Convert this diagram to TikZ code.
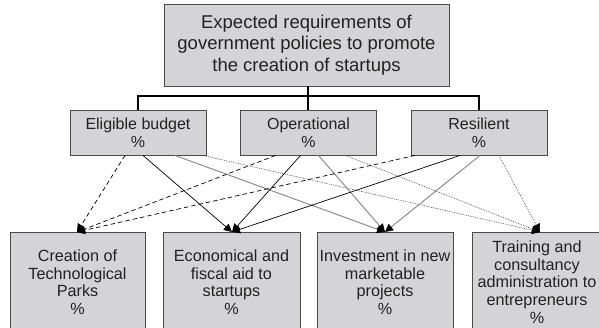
\documentclass[tikz,border=0pt]{standalone}
\usepackage{fontspec}
\setmainfont{Liberation Sans}
\usetikzlibrary{arrows.meta}
\definecolor{boxfill}{HTML}{D4D4D6}
\definecolor{boxline}{HTML}{4A4A4A}
\definecolor{txt}{HTML}{222222}
\definecolor{grayline}{HTML}{8C8C8C}
\begin{document}
\begin{tikzpicture}[x=1pt,y=-1pt,
  box/.style={draw=boxline,fill=boxfill,line width=0.9pt,inner sep=0pt,align=center,text=txt},
  topbox/.style={box,minimum width=285pt,minimum height=82pt,font=\fontsize{18.5}{21.5}\selectfont},
  midbox/.style={box,minimum width=136pt,minimum height=45pt,font=\fontsize{16}{18}\selectfont},
  botbox/.style={box,minimum height=100pt,font=\fontsize{16.2}{17.6}\selectfont},
  tree/.style={line width=1.2pt,black},
  tip/.style={-{Triangle[length=8pt,width=8pt,color=black,fill=black]}},
  cdash/.style={tip,line width=0.7pt,black,dash pattern=on 4.5pt off 3pt},
  csolid/.style={tip,line width=0.7pt,black},
  cgray/.style={tip,line width=1pt,grayline},
  cdot/.style={tip,line width=0.6pt,black!75,dash pattern=on 0.8pt off 1pt}
]
\useasboundingbox (0,0) rectangle (599,328);
\clip (0,0) rectangle (599,328);
\node[topbox] (top) at (306.5,45) {Expected requirements of\\government policies to promote\\the creation of startups};
\node[midbox] (eb) at (138,132.5) {Eligible budget\\\%};
\node[midbox] (op) at (308.5,132.5) {Operational\\\%};
\node[midbox] (re) at (479,132.5) {Resilient\\\%};
\node[botbox,minimum width=135pt] (cr) at (77.5,282) {Creation of\\Technological\\Parks\\\%};
\node[botbox,minimum width=137pt] (ec) at (231.5,282) {Economical and\\fiscal aid to\\startups\\\%};
\node[botbox,minimum width=136pt] (in) at (385,282) {Investment in new\\marketable\\projects\\\%};
\node[botbox,minimum width=130pt] (tr) at (537,282) {Training and\\consultancy\\administration to\\entrepreneurs\\\%};
% tree connectors
\coordinate (j) at (308,96);
\draw[tree] (top.south -| j) -- (j);
\draw[tree] (eb.north) |- (j) -| (re.north);
\draw[tree] (j) -- (op.north -| j);
% target points
\coordinate (tcr) at (77,232);
\coordinate (tec) at (232,232);
\coordinate (tin) at (385,232);
\coordinate (ttr) at (540,232);
% from Eligible budget
\draw[cdash] ([xshift=-13pt]eb.south) -- (tcr);
\draw[csolid] ([xshift=5pt]eb.south) -- (tec);
\draw[cgray] ([xshift=37pt]eb.south) -- (tin);
\draw[cdot] ([xshift=65pt]eb.south) -- (ttr);
% from Operational
\draw[cdash] ([xshift=-33pt]op.south) -- (tcr);
\draw[csolid] ([xshift=-8pt]op.south) -- (tec);
\draw[cgray] ([xshift=10pt]op.south) -- (tin);
\draw[cdot] ([xshift=37pt]op.south) -- (ttr);
% from Resilient
\draw[cdash] ([xshift=-64pt]re.south) -- (tcr);
\draw[csolid] ([xshift=-19pt]re.south) -- (tec);
\draw[cgray] ([xshift=1pt]re.south) -- (tin);
\draw[cdot] ([xshift=20pt]re.south) -- (ttr);
\end{tikzpicture}
\end{document}
